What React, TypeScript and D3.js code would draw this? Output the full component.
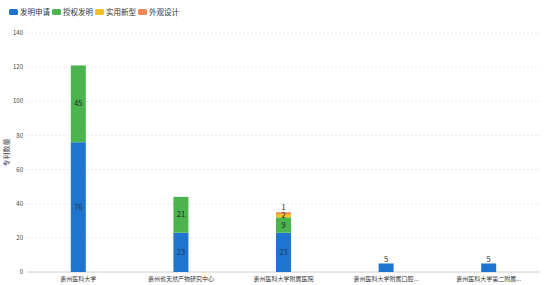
import React from "react";
import * as d3 from "d3";

const categories = ["贵州医科大学", "贵州省天然产物研究中心", "贵州医科大学附属医院", "贵州医科大学附属口腔...", "贵州医科大学第二附属..."];
const seriesNames = ["发明申请", "授权发明", "实用新型", "外观设计"];
const seriesColors = ["#1f74d0", "#4cb44e", "#f5bf2a", "#f08656"];
const inventionApply = [76, 23, 23, 5, 5];
const inventionGranted = [45, 21, 9, 0, 0];
const utilityModel = [0, 0, 2, 0, 0];
const designPatent = [0, 0, 1, 0, 0];
const yTicks = [0, 20, 40, 60, 80, 100, 120, 140];
const yTitle = "专利数量";

const W = 546, H = 285;
const M = { left: 27, right: 6, top: 33, bottom: 13 };

export default function App() {
  const series = [inventionApply, inventionGranted, utilityModel, designPatent];
  const x = d3.scaleBand<string>().domain(categories).range([M.left, W - M.right]).paddingInner(0).paddingOuter(0);
  const y = d3.scaleLinear().domain([0, 140]).range([H - M.bottom, M.top]);
  const barW = 15;
  const font = "'Noto Sans CJK SC', 'Noto Sans', sans-serif";

  const rows = categories.map((c, i) => {
    const o: any = { cat: c };
    seriesNames.forEach((s, k) => (o[s] = series[k][i]));
    return o;
  });
  const stacked = d3.stack<any>().keys(seriesNames)(rows);

  const legendX = [9, 52, 95, 138];

  return (
    <svg width={W} height={H} style={{ position: "absolute", left: 0, top: 0, fontFamily: font }}>
      <rect width={W} height={H} fill="#fff" />
      {seriesNames.map((s, k) => (
        <g key={s} transform={`translate(${legendX[k]},9)`}>
          <rect x={0} y={0} width={9} height={6} rx={1.5} fill={seriesColors[k]} />
          <text x={11} y={6} fontSize={7.5} fill="#333">{s}</text>
        </g>
      ))}
      {yTicks.map((t) => (
        <g key={t}>
          <line x1={M.left} x2={W - M.right} y1={y(t)} y2={y(t)} stroke={t === 0 ? "#ccc" : "#e3e3e3"} strokeDasharray={t === 0 ? undefined : "2,2"} strokeWidth={t === 0 ? 1 : 0.8} />
          <text x={M.left - 4} y={y(t)} dy="0.35em" textAnchor="end" fontSize={6} fill="#444">{t}</text>
        </g>
      ))}
      <text transform={`translate(9,${(y(0) + y(140)) / 2}) rotate(-90)`} textAnchor="middle" fontSize={7} fill="#444">{yTitle}</text>
      {stacked.map((layer, k) => (
        <g key={k}>
          {layer.map((d, i) => {
            const v = d[1] - d[0];
            if (v <= 0) return null;
            const cx = (x(categories[i]) as number) + x.bandwidth() / 2;
            return (
              <rect key={i} x={cx - barW / 2} width={barW} y={y(d[1])} height={y(d[0]) - y(d[1])} fill={seriesColors[k]} />
            );
          })}
        </g>
      ))}
      {stacked.map((layer, k) => (
        <g key={"l" + k}>
          {layer.map((d, i) => {
            const v = d[1] - d[0];
            if (v <= 0) return null;
            const cx = (x(categories[i]) as number) + x.bandwidth() / 2;
            const h = y(d[0]) - y(d[1]);
            const isTop = stacked.slice(k + 1).every((l) => l[i][1] - l[i][0] <= 0);
            const above = isTop && h < 10;
            const ly = above ? y(d[1]) - 4.5 : (y(d[0]) + y(d[1])) / 2;
            return (
              <text key={i} x={cx} y={ly} dy="0.35em" textAnchor="middle" fontSize={7.5} fill={k === 0 && !above ? "#1b3a5c" : "#222"}>{v}</text>
            );
          })}
        </g>
      ))}
      {categories.map((c) => (
        <text key={c} x={(x(c) as number) + x.bandwidth() / 2} y={H - M.bottom + 9} textAnchor="middle" fontSize={6} fill="#333">{c}</text>
      ))}
    </svg>
  );
}
